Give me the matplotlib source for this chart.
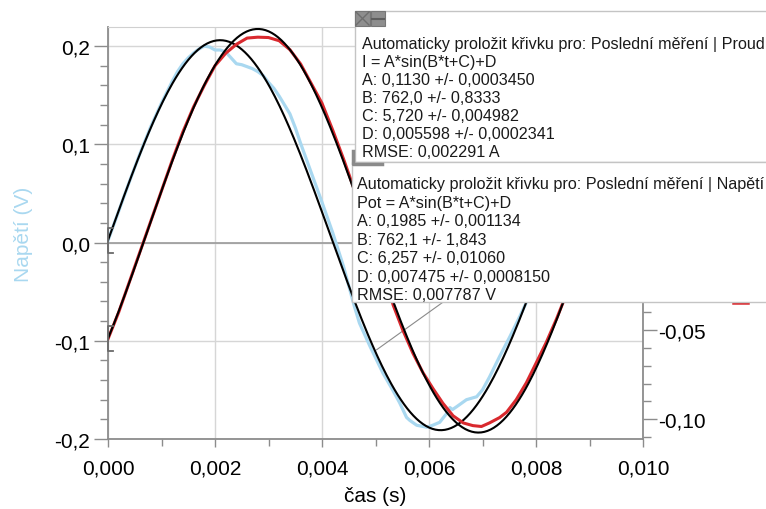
import numpy as np
import matplotlib
matplotlib.use("Agg")
import matplotlib.pyplot as plt
from matplotlib.ticker import MultipleLocator, FuncFormatter
from matplotlib.patches import Rectangle
from matplotlib.lines import Line2D

plt.rcParams['font.family'] = ['Liberation Sans', 'DejaVu Sans']

# naměřené napětí (V), modrá křivka
t_nap = [0.0000, 0.0002, 0.0004, 0.0006, 0.0008, 0.0010, 0.0012, 0.0013, 0.0014, 0.0015,
         0.0016, 0.0017, 0.0018, 0.0019, 0.0020, 0.0021, 0.0022, 0.0023, 0.0024, 0.0025,
         0.0026, 0.0027, 0.0028, 0.0029, 0.0030, 0.0031, 0.0032, 0.0033, 0.0034, 0.0035,
         0.0036, 0.0038, 0.0040, 0.0042, 0.0044, 0.0046, 0.0047, 0.0049, 0.00514, 0.00532,
         0.00545, 0.00558, 0.00564, 0.00577, 0.00596, 0.00607, 0.00620, 0.00633, 0.00639, 0.00644,
         0.00652, 0.00670, 0.00689, 0.00700, 0.00713, 0.00732, 0.00751, 0.00769, 0.00782, 0.00800]
nap = [0.002, 0.032, 0.062, 0.091, 0.118, 0.142, 0.164, 0.174, 0.182, 0.188,
       0.193, 0.197, 0.200, 0.199, 0.196, 0.196, 0.194, 0.188, 0.182, 0.181,
       0.179, 0.177, 0.174, 0.170, 0.163, 0.157, 0.149, 0.140, 0.131, 0.117,
       0.101, 0.071, 0.041, 0.010, -0.024, -0.064, -0.082, -0.106, -0.133, -0.150,
       -0.163, -0.178, -0.181, -0.186, -0.188, -0.186, -0.183, -0.174, -0.168, -0.170,
       -0.167, -0.160, -0.157, -0.150, -0.137, -0.116, -0.096, -0.076, -0.061, -0.040]

# naměřený proud (A), červená křivka
t_proud = [0.0000, 0.0002, 0.0004, 0.0006, 0.0008, 0.0010, 0.0012, 0.0014, 0.0016, 0.0018,
           0.0020, 0.0022, 0.0024, 0.0026, 0.0028, 0.0030, 0.0032, 0.0034, 0.0036, 0.0038,
           0.0040, 0.0042, 0.0044, 0.0046, 0.0048, 0.0050, 0.0052, 0.00533, 0.00551, 0.00570,
           0.00589, 0.00608, 0.00626, 0.00645, 0.00664, 0.00682, 0.00698, 0.00713, 0.00732, 0.00745,
           0.00763, 0.00782, 0.00801, 0.00819, 0.00838, 0.00850, 0.00870]
proud = [-0.055, -0.040, -0.023, -0.006, 0.011, 0.028, 0.045, 0.061, 0.075, 0.087,
         0.098, 0.105, 0.110, 0.1135, 0.114, 0.1138, 0.112, 0.107, 0.099, 0.088,
         0.077, 0.062, 0.046, 0.029, 0.011, -0.006, -0.023, -0.036, -0.050, -0.063,
         -0.074, -0.083, -0.091, -0.098, -0.102, -0.1035, -0.104, -0.102, -0.099, -0.096,
         -0.089, -0.0795, -0.068, -0.057, -0.044, -0.035, -0.022]

# parametry fitu A*sin(B*t+C)+D z rámečků
fit_proud = [0.1130, 762.0, 5.720, 0.005598]
fit_nap = [0.1985, 762.1, 6.257, 0.007475]

box_proud = ["Automaticky proložit křivku pro: Poslední měření | Proud",
             "I = A*sin(B*t+C)+D",
             "A: 0,1130 +/- 0,0003450",
             "B: 762,0 +/- 0,8333",
             "C: 5,720 +/- 0,004982",
             "D: 0,005598 +/- 0,0002341",
             "RMSE: 0,002291 A"]
box_nap = ["Automaticky proložit křivku pro: Poslední měření | Napětí",
           "Pot = A*sin(B*t+C)+D",
           "A: 0,1985 +/- 0,001134",
           "B: 762,1 +/- 1,843",
           "C: 6,257 +/- 0,01060",
           "D: 0,007475 +/- 0,0008150",
           "RMSE: 0,007787 V"]

W, H = 766, 510
fig = plt.figure(figsize=(W / 100, H / 100), dpi=100)

def fx(x):
    return x / W

def fy(y):
    return 1 - y / H

ax = fig.add_axes([fx(108), fy(440), fx(643) - fx(108), fy(28) - fy(440)])
ax2 = ax.twinx()

t_fit = np.linspace(0, 0.0088, 300)
A, B, C, D = fit_nap
ax.plot(t_nap, nap, color='#a9d8f0', lw=2.3, zorder=3)
ax.plot(t_fit, A * np.sin(B * t_fit + C) + D, color='black', lw=1.5, zorder=4)
A, B, C, D = fit_proud
ax2.plot(t_proud, proud, color='#d9292e', lw=2.2, zorder=3)
ax2.plot(t_fit, A * np.sin(B * t_fit + C) + D, color='black', lw=1.5, zorder=4)

ax.set_xlim(0, 0.010)
ax.set_ylim(-0.2, 0.2194)
ax2.set_ylim(-0.111, 0.1197)

ax.xaxis.set_major_locator(MultipleLocator(0.002))
ax.xaxis.set_minor_locator(MultipleLocator(0.001))
ax.yaxis.set_major_locator(MultipleLocator(0.1))
ax.yaxis.set_minor_locator(MultipleLocator(0.02))
ax2.yaxis.set_major_locator(MultipleLocator(0.05))
ax2.yaxis.set_minor_locator(MultipleLocator(0.01))

ax.xaxis.set_major_formatter(FuncFormatter(lambda v, p: ('%.3f' % v).replace('.', ',')))
ax.yaxis.set_major_formatter(FuncFormatter(lambda v, p: ('%.1f' % (v + 0.0)).replace('.', ',')))
ax2.yaxis.set_major_formatter(FuncFormatter(lambda v, p: ('%.2f' % (v + 0.0)).replace('.', ',')))

ax.grid(True, which='major', color='#d6d6d6', lw=1)
ax.axhline(0, color='#9a9a9a', lw=1.2, zorder=2)

for s in ['left', 'bottom']:
    ax.spines[s].set_color('#8c8c8c')
    ax.spines[s].set_linewidth(1.3)
ax.spines['top'].set_color('#d0d0d0')
ax.spines['right'].set_visible(False)
for s in ['left', 'top', 'bottom']:
    ax2.spines[s].set_visible(False)
ax2.spines['right'].set_color('#8c8c8c')
ax2.spines['right'].set_linewidth(1.3)

ax.tick_params(axis='y', which='major', length=10, width=1, color='#8c8c8c', labelsize=15, pad=3)
ax.tick_params(axis='y', which='minor', length=6, width=1, color='#8c8c8c')
ax.tick_params(axis='x', which='major', length=6, width=1, color='#8c8c8c', labelsize=15, pad=8)
ax.tick_params(axis='x', which='minor', length=5, width=1, color='#8c8c8c')
ax2.tick_params(axis='y', which='major', length=10, width=1, color='#8c8c8c', labelsize=15, pad=1)
ax2.tick_params(axis='y', which='minor', length=6, width=1, color='#8c8c8c')

ax.set_xlabel('čas (s)', fontsize=15, labelpad=6)
ax.set_ylabel('Napětí (V)', fontsize=15, color='#a9d8f0')
ax.yaxis.set_label_coords(-0.140, 0.5)

# začátky rozsahu fitu
ax.plot([0.00009, 0, 0, 0.00009], [0.0151, 0.0151, -0.0104, -0.0104], color='#6a6a6a', lw=1.3, clip_on=False, zorder=5)
ax2.plot([0.00009, 0, 0, 0.00009], [-0.048, -0.048, -0.062, -0.062], color='#6a6a6a', lw=1.3, clip_on=False, zorder=5)

# spojnice k rámečku
ax.plot([0.00502, 0.00640], [-0.1092, -0.0553], color='#8a8a8a', lw=0.8, zorder=5)

# rámečky s fitem
fig.add_artist(Rectangle((fx(355), fy(163)), fx(780) - fx(355), fy(12) - fy(163),
                         transform=fig.transFigure, fc='white', ec='#c4c4c4', lw=1, zorder=10))
fig.add_artist(Rectangle((fx(352), fy(303)), fx(780) - fx(352), fy(163) - fy(303),
                         transform=fig.transFigure, fc='white', ec='#c4c4c4', lw=1, zorder=10))

for i, s in enumerate(box_proud):
    fig.text(fx(362), fy(44 + i * 18.1), s, fontsize=11.6, va='center', ha='left', color='#1a1a1a', zorder=12)
for i, s in enumerate(box_nap):
    fig.text(fx(357), fy(185 + i * 18.5), s, fontsize=11.6, va='center', ha='left', color='#1a1a1a', zorder=12)

# ikony zavřít / minimalizovat
fig.add_artist(Rectangle((fx(355), fy(27)), fx(15), fy(0) - fy(15), transform=fig.transFigure,
                         fc='#8e8e8e', ec='#777777', lw=0.8, zorder=13))
fig.add_artist(Rectangle((fx(371), fy(27)), fx(14), fy(0) - fy(15), transform=fig.transFigure,
                         fc='#8e8e8e', ec='#777777', lw=0.8, zorder=13))
fig.add_artist(Line2D([fx(356), fx(369)], [fy(13), fy(26)], transform=fig.transFigure, color='#6e6e6e', lw=1, zorder=14))
fig.add_artist(Line2D([fx(356), fx(369)], [fy(26), fy(13)], transform=fig.transFigure, color='#6e6e6e', lw=1, zorder=14))
fig.add_artist(Line2D([fx(372), fx(384)], [fy(19.5), fy(19.5)], transform=fig.transFigure, color='#5e5e5e', lw=1.5, zorder=14))

# konec rozsahu
fig.add_artist(Line2D([fx(353), fx(353), fx(382)], [fy(152), fy(165), fy(165)], transform=fig.transFigure,
                      color='#8a8a8a', lw=2.5, zorder=14))

# kousek legendy vpravo
fig.add_artist(Line2D([fx(733), fx(748)], [fy(304), fy(304)], transform=fig.transFigure, color='#d9292e', lw=1.8, zorder=9))

fig.savefig('out.png', dpi=100)
